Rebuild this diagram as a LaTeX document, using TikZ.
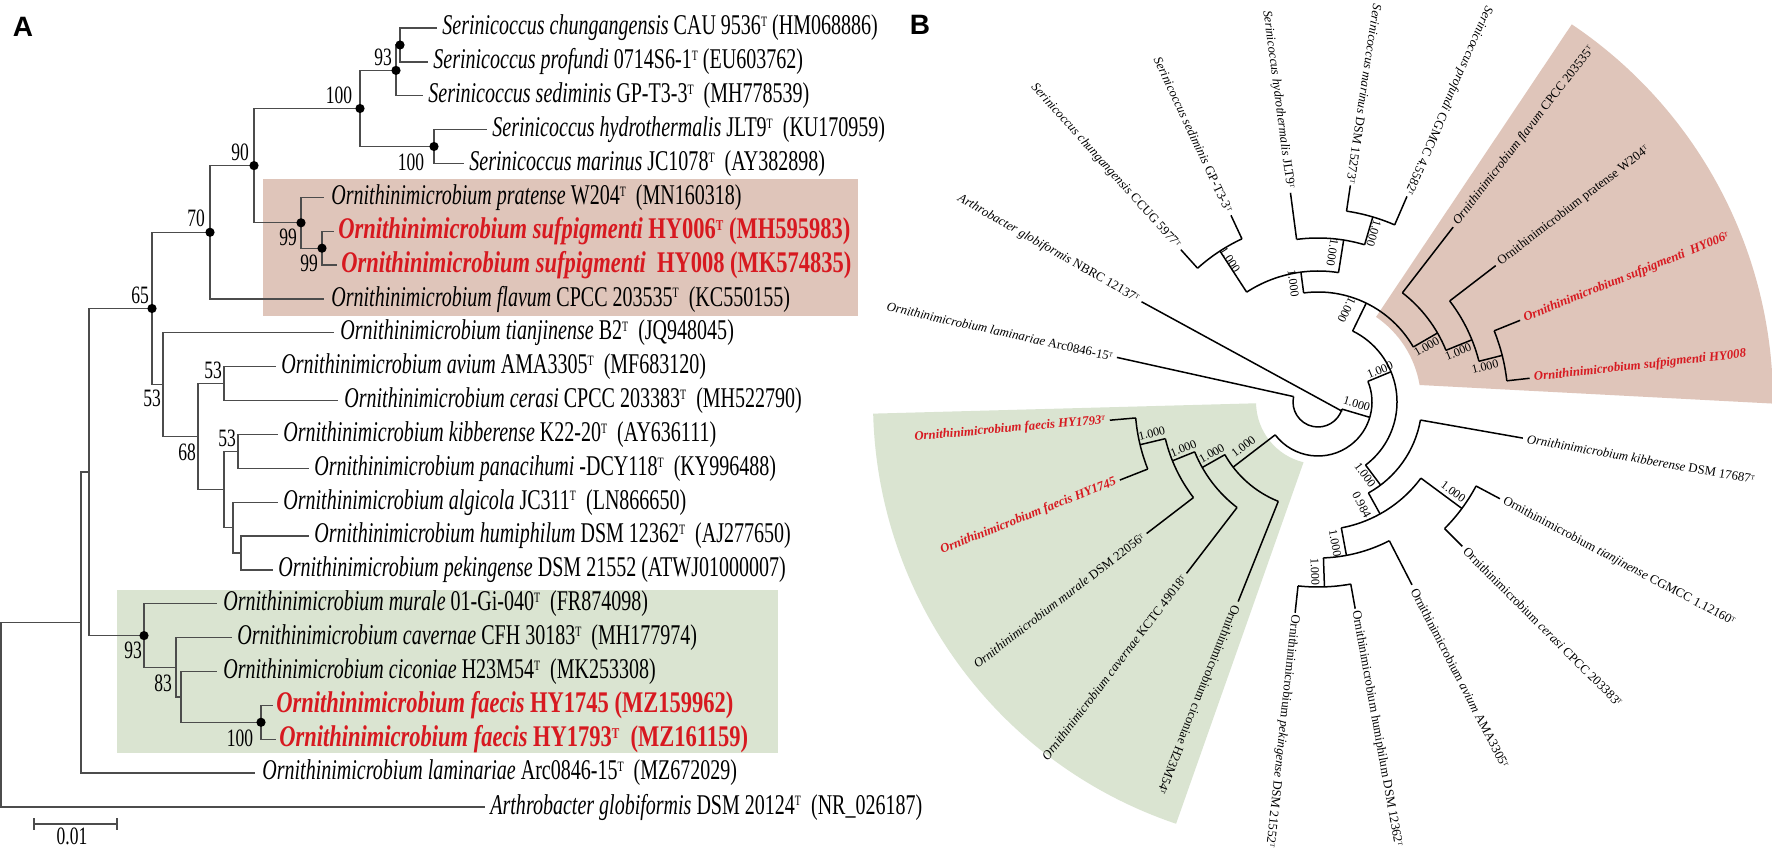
\documentclass[tikz,border=0pt]{standalone}
\usepackage{fontspec}
\setmainfont{Liberation Serif}
\newfontfamily\condA{Liberation Serif}[FakeStretch=0.70]
\newfontfamily\condB{Liberation Serif}[FakeStretch=0.75]
\newfontfamily\labsans{Liberation Sans}
\definecolor{hlred}{RGB}{215,25,32}
\definecolor{pinkbg}{RGB}{223,197,186}
\definecolor{greenbg}{RGB}{218,228,209}
\newcommand\Tsup{\raisebox{0.62ex}{\scalebox{0.5}{T}}}
\newcommand\leafR[4]{\node[leafB, anchor=west, rotate=#2] (#1) at (#2:#3) {#4};}
\newcommand\leafL[4]{\node[leafB, anchor=east, rotate=#2-180] (#1) at (#2:#3) {#4};}
\begin{document}
\begin{tikzpicture}[x=0.5pt,y=0.5pt,
  leafA/.style={anchor=west, inner sep=0pt, font=\condA\fontsize{14.3}{16}\selectfont},
  redA/.style={anchor=west, inner sep=0pt, text=hlred, font=\condB\bfseries\fontsize{15}{17}\selectfont},
  bootA/.style={inner sep=0pt, font=\condA\fontsize{12.5}{14}\selectfont},
  brA/.style={draw=black!70, line width=0.65pt},
  dotA/.style={circle, fill=black, inner sep=0pt, minimum size=4.6pt},
  leafB/.style={inner sep=0pt, font=\fontsize{6.4}{7.5}\selectfont},
  brB/.style={draw=black, line width=0.75pt},
  lblB/.style={inner sep=0pt, font=\fontsize{6}{7}\selectfont},
  panlab/.style={inner sep=0pt, font=\labsans\bfseries\fontsize{14}{16}\selectfont}]
\useasboundingbox (0,0) rectangle (1772,-849);
\fill[white] (0,0) rectangle (1772,-849);

% ================= Panel A =================
\fill[pinkbg] (263,-179) rectangle (858,-316);
\fill[greenbg] (117,-590) rectangle (778,-753);

\coordinate (R) at (1,-714.8);
\coordinate (L) at (81,-622.6);
\coordinate (M) at (89,-472);
\coordinate (N65) at (152,-308.5);
\coordinate (N70) at (210,-232.3);
\coordinate (N90) at (254,-165.6);
\coordinate (N100a) at (360,-108.5);
\coordinate (N69) at (396,-70.4);
\coordinate (N93a) at (400,-45);
\coordinate (Nhm) at (434,-146.5);
\coordinate (Npr) at (301,-222.8);
\coordinate (NHY) at (322,-248.2);
\coordinate (N53a) at (163,-384.7);
\coordinate (N68) at (198,-436.6);
\coordinate (Nac) at (224,-383.6);
\coordinate (NX) at (224,-489.5);
\coordinate (Nkp) at (238,-451.4);
\coordinate (Nahp) at (233,-527.6);
\coordinate (Nhp) at (241,-553);
\coordinate (N93b) at (144,-635.6);
\coordinate (N83) at (176,-667.3);
\coordinate (Ncf) at (181,-696.9);
\coordinate (Nfa) at (261,-722.3);

\coordinate (a1) at (437,-28);
\coordinate (a2) at (428,-61.9);
\coordinate (a3) at (423,-95.7);
\coordinate (a4) at (487,-129.6);
\coordinate (a5) at (464,-163.5);
\coordinate (a6) at (324,-197.4);
\coordinate (a7) at (334,-231.2);
\coordinate (a8) at (337,-265.1);
\coordinate (a9) at (324,-299);
\coordinate (a10) at (334,-332.8);
\coordinate (a11) at (276,-366.7);
\coordinate (a12) at (338,-400.6);
\coordinate (a13) at (278,-434.4);
\coordinate (a14) at (309,-468.3);
\coordinate (a15) at (278,-502.2);
\coordinate (a16) at (309,-536.1);
\coordinate (a17) at (273,-569.9);
\coordinate (a18) at (217,-603.8);
\coordinate (a19) at (232,-637.7);
\coordinate (a20) at (217,-671.5);
\coordinate (a21) at (273,-705.4);
\coordinate (a22) at (276,-739.3);
\coordinate (a23) at (255,-773.1);
\coordinate (a24) at (485,-807);

\foreach \p/\c in {R/L,R/a24,L/M,L/a23,M/N65,M/N93b,N65/N70,N65/N53a,N70/N90,N70/a9,
  N90/N100a,N90/Npr,N100a/N69,N100a/Nhm,N69/N93a,N69/a3,N93a/a1,N93a/a2,Nhm/a4,Nhm/a5,
  Npr/a6,Npr/NHY,NHY/a7,NHY/a8,N53a/a10,N53a/N68,N68/Nac,N68/NX,Nac/a11,Nac/a12,
  NX/Nkp,NX/Nahp,Nkp/a13,Nkp/a14,Nahp/a15,Nahp/Nhp,Nhp/a16,Nhp/a17,N93b/a18,N93b/N83,
  N83/a19,N83/Ncf,Ncf/a20,Ncf/Nfa,Nfa/a21,Nfa/a22}
  \draw[brA] (\p) |- (\c);

\foreach \n in {N93a,N69,N100a,Nhm,N90,Npr,NHY,N70,N65,N93b,Nfa}
  \node[dotA] (d\n) at (\n) {};

\node[leafA, xshift=2.5pt] (t1) at (a1) {\textit{Serinicoccus chungangensis} CAU 9536\Tsup{} (HM068886)};
\node[leafA, xshift=2.5pt] (t2) at (a2) {\textit{Serinicoccus profundi} 0714S6-1\Tsup{} (EU603762)};
\node[leafA, xshift=2.5pt] (t3) at (a3) {\textit{Serinicoccus sediminis} GP-T3-3\Tsup\ \ (MH778539)};
\node[leafA, xshift=2.5pt] (t4) at (a4) {\textit{Serinicoccus hydrothermalis} JLT9\Tsup\ \ (KU170959)};
\node[leafA, xshift=2.5pt] (t5) at (a5) {\textit{Serinicoccus marinus} JC1078\Tsup\ \ (AY382898)};
\node[leafA, xshift=3.5pt] (t6) at (a6) {\textit{Ornithinimicrobium pratense} W204\Tsup\ \ (MN160318)};
\node[redA, xshift=2pt] (t7) at (a7) {\textit{Ornithinimicrobium sufpigmenti} HY006\Tsup{} (MH595983)};
\node[redA, xshift=2pt] (t8) at (a8) {\textit{Ornithinimicrobium sufpigmenti}\ \ HY008 (MK574835)};
\node[leafA, xshift=3.5pt] (t9) at (a9) {\textit{Ornithinimicrobium flavum} CPCC 203535\Tsup\ \ (KC550155)};
\node[leafA, xshift=3pt] (t10) at (a10) {\textit{Ornithinimicrobium tianjinense} B2\Tsup\ \ (JQ948045)};
\node[leafA, xshift=2.5pt] (t11) at (a11) {\textit{Ornithinimicrobium avium} AMA3305\Tsup\ \ (MF683120)};
\node[leafA, xshift=3pt] (t12) at (a12) {\textit{Ornithinimicrobium cerasi} CPCC 203383\Tsup\ \ (MH522790)};
\node[leafA, xshift=2.5pt] (t13) at (a13) {\textit{Ornithinimicrobium kibberense} K22-20\Tsup\ \ (AY636111)};
\node[leafA, xshift=2.5pt] (t14) at (a14) {\textit{Ornithinimicrobium panacihumi} -DCY118\Tsup\ \ (KY996488)};
\node[leafA, xshift=2.5pt] (t15) at (a15) {\textit{Ornithinimicrobium algicola} JC311\Tsup\ \ (LN866650)};
\node[leafA, xshift=2.5pt] (t16) at (a16) {\textit{Ornithinimicrobium humiphilum} DSM 12362\Tsup\ \ (AJ277650)};
\node[leafA, xshift=2.5pt] (t17) at (a17) {\textit{Ornithinimicrobium pekingense} DSM 21552 (ATWJ01000007)};
\node[leafA, xshift=3pt] (t18) at (a18) {\textit{Ornithinimicrobium murale} 01-Gi-040\Tsup\ \ (FR874098)};
\node[leafA, xshift=2.5pt] (t19) at (a19) {\textit{Ornithinimicrobium cavernae} CFH 30183\Tsup\ \ (MH177974)};
\node[leafA, xshift=3pt] (t20) at (a20) {\textit{Ornithinimicrobium ciconiae} H23M54\Tsup\ \ (MK253308)};
\node[redA, xshift=1.5pt] (t21) at (a21) {\textit{Ornithinimicrobium faecis} HY1745 (MZ159962)};
\node[redA, xshift=1.5pt] (t22) at (a22) {\textit{Ornithinimicrobium faecis} HY1793\Tsup\ \ (MZ161159)};
\node[leafA, xshift=3.5pt] (t23) at (a23) {\textit{Ornithinimicrobium laminariae} Arc0846-15\Tsup\ \ (MZ672029)};
\node[leafA, xshift=2.5pt] (t24) at (a24) {\textit{Arthrobacter globiformis} DSM 20124\Tsup\ \ (NR\_026187)};

\node[bootA] (b1) at (383,-57) {93};
\node[bootA] (b2) at (339,-95) {100};
\node[bootA] (b3) at (411,-162) {100};
\node[bootA] (b4) at (240,-152) {90};
\node[bootA] (b5) at (196,-218) {70};
\node[bootA] (b6) at (140,-295) {65};
\node[bootA] (b7) at (288,-237) {99};
\node[bootA] (b8) at (309,-263) {99};
\node[bootA] (b9) at (152,-398) {53};
\node[bootA] (b10) at (187,-452) {68};
\node[bootA] (b11) at (213,-370) {53};
\node[bootA] (b12) at (227,-438) {53};
\node[bootA] (b13) at (133,-650) {93};
\node[bootA] (b14) at (163,-683) {83};
\node[bootA] (b15) at (240,-738) {100};

\coordinate (sb1) at (34,-824);
\coordinate (sb2) at (117,-824);
\draw[brA] (sb1) -- (sb2);
\draw[brA] ([yshift=3pt]sb1) -- ([yshift=-3pt]sb1);
\draw[brA] ([yshift=3pt]sb2) -- ([yshift=-3pt]sb2);
\node[bootA] (sbl) at (72,-836) {0.01};

\node[panlab] (labA) at (23,-27) {A};
\node[panlab] (labB) at (920,-25) {B};

% ================= Panel B =================
\begin{scope}[shift={(1318,-402)}]
\fill[pinkbg] (55.7:103) -- (56.1:455) arc[start angle=56.1, end angle=-0.2, radius=455]
  -- (9.5:103) arc[start angle=9.5, end angle=55.7, radius=103] -- cycle;
\fill[greenbg] (181.5:445) -- (181.2:62) arc[start angle=181.2, end angle=256.5, radius=62]
  -- (251.4:445) arc[start angle=251.4, end angle=181.5, radius=445] -- cycle;

\foreach \a/\ri/\ro in {343.5/25/54, 167.5/25/206, 217.5/54/107, 22.5/54/79,
  -53/79/104, 64/79/110, 30/110/138, 97.5/110/131, 81/131/164, 123/131/180,
  115/180/206, 132/180/205, 97.5/164/211, 73.5/164/193, 81.5/193/219, 66.6/193/224,
  52.3/138/221, 22/138/166, 37.5/166/224, 14.2/166/190, 22/190/218, 6.4/190/213,
  -10/104/208, -61/104/128, -36.5/128/179, -79.5/128/156, -28/179/206, -45/179/204,
  -62.8/156/205.6, -88/156/185, -79.8/185/210, -96.2/185/212,
  248.2/107/215, 209.5/107/133, 232.5/133/216, 202/133/157, 217.5/157/216,
  193.5/157/183, 185/183/209, 201.5/183/213}
  \draw[brB] (\a:\ri) -- (\a:\ro);

\foreach \r/\s/\e in {25/167.5/343.5, 54/217.5/382.5, 79/-53/64, 110/30/97.5,
  131/81/123, 180/115/132, 164/73.5/97.5, 193/66.6/81.5, 138/22/52.3, 166/14.2/37.5,
  190/6.4/22, 104/-61/-10, 128/-79.5/-36.5, 179/-45/-28, 156/-88/-62.8,
  185/-96.2/-79.8, 107/209.5/248.2, 133/202/232.5, 157/193.5/217.5, 183/185/201.5}
  \draw[brB] (\s:\r) arc[start angle=\s, end angle=\e, radius=\r];

\coordinate (arthIn) at (-21:26);
\coordinate (arthTip) at (150.4:203);
\draw[brB] (arthIn) -- (arthTip);

\leafL{tArth}{150.4}{207}{\textit{Arthrobacter globiformis} NBRC 12137\Tsup}
\leafL{tChu}{132}{209}{\textit{Serinicoccus chungangensis} CCUG 5977\Tsup}
\leafL{tSed}{115}{210}{\textit{Serinicoccus sediminis} GP-T3-3\Tsup}
\leafL{tHyd}{97.5}{215}{\textit{Serinicoccus hydrothermalis} JLT9\Tsup}
\leafL{tMar}{81.5}{221}{\textit{Serinicoccus marinus} DSM 15273\Tsup}
\leafL{tPro}{66.6}{226}{\textit{Serinicoccus profundi} CGMCC 4.5582\Tsup}
\leafR{tFla}{52.3}{225}{\textit{Ornithinimicrobium flavum} CPCC 203535\Tsup}
\leafR{tPra}{37.5}{228}{Ornithinimicrobium pratense W204\Tsup}
\leafR{tH6}{22}{222}{\textcolor{hlred}{\bfseries\itshape Ornithinimicrobium sufpigmenti\ \ HY006\Tsup}}
\leafR{tH8}{6.4}{217}{\textcolor{hlred}{\bfseries\itshape Ornithinimicrobium sufpigmenti HY008}}
\leafR{tKib}{-10}{212}{\textit{Ornithinimicrobium kibberense} DSM 17687\Tsup}
\leafR{tTia}{-28}{210}{Ornithinimicrobium \textit{tianjinense} CGMCC 1.12160\Tsup}
\leafR{tCer}{-45}{208}{Ornithinimicrobium \textit{cerasi} CPCC 203383\Tsup}
\leafR{tAvi}{-62.8}{210}{Ornithinimicrobium \textit{avium} AMA3305\Tsup}
\leafR{tHum}{-79.8}{212}{Ornithinimicrobium humiphilum DSM 12362\Tsup}
\leafR{tPek}{-96.2}{214}{Ornithinimicrobium \textit{pekingense} DSM 21552\Tsup}
\leafR{tCic}{-111.8}{219}{Ornithinimicrobium ciconiae H23M54\Tsup}
\leafL{tCav}{232.5}{220}{\textit{Ornithinimicrobium cavernae} KCTC 49018\Tsup}
\leafL{tMur}{217.5}{220}{\textit{Ornithinimicrobium murale} DSM 22056\Tsup}
\leafL{tF45}{201.5}{217}{\textcolor{hlred}{\bfseries\itshape Ornithinimicrobium faecis HY1745}}
\leafL{tF93}{185}{213}{\textcolor{hlred}{\bfseries\itshape Ornithinimicrobium faecis HY1793\Tsup}}
\leafL{tLam}{167.5}{210}{\textit{Ornithinimicrobium laminariae} Arc0846-15\Tsup}

\node[lblB, rotate=-16.5] (l1) at (-3:38.8) {1.000};
\node[lblB, rotate=22.5] (l2) at (27.3:69.8) {1.000};
\node[lblB, rotate=-116] (l3) at (72.7:96.4) {1.000};
\node[lblB, rotate=-82.5] (l4) at (101.8:121) {1.000};
\node[lblB, rotate=-57] (l5) at (121.8:167) {1.000};
\node[lblB, rotate=-99] (l6) at (84.5:150) {1.000};
\node[lblB, rotate=-106.5] (l7) at (71.7:177.6) {1.000};
\node[lblB, rotate=30] (l8) at (27:122) {1.000};
\node[lblB, rotate=22] (l9) at (19.7:149) {1.000};
\node[lblB, rotate=14] (l10) at (11.9:170.7) {1.000};
\node[lblB, rotate=-53] (l11) at (-57.2:86.8) {1.000};
\node[lblB, rotate=-62] (l12) at (-67:111.9) {0.984};
\node[lblB, rotate=-36.5] (l13) at (-33.5:162.3) {1.000};
\node[lblB, rotate=-79.5] (l14) at (-83.1:142.3) {1.000};
\node[lblB, rotate=-88] (l15) at (-91:169.7) {1.000};
\node[lblB, rotate=37.5] (l16) at (210.9:87) {1.000};
\node[lblB, rotate=29.5] (l17) at (205.8:118) {1.000};
\node[lblB, rotate=22] (l18) at (199:142.4) {1.000};
\node[lblB, rotate=13.5] (l19) at (190.7:169.2) {1.000};
\end{scope}
\end{tikzpicture}
\end{document}
